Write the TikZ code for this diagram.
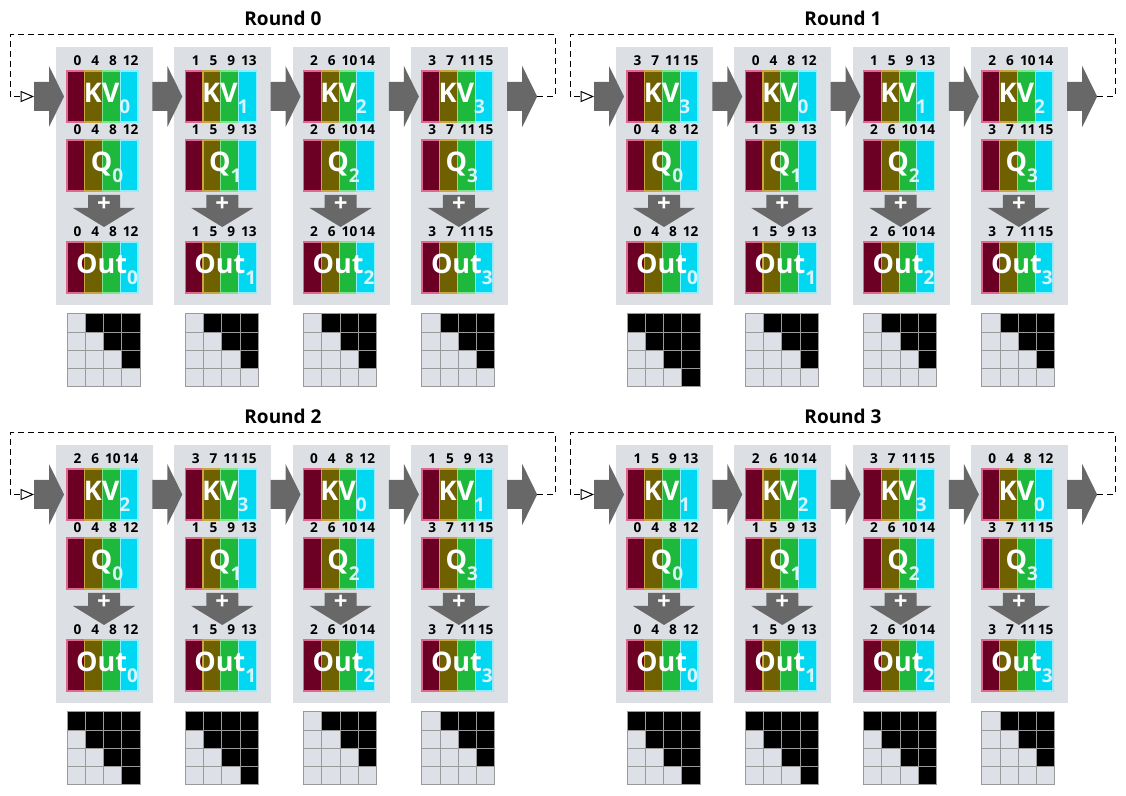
\documentclass[tikz,border=0pt]{standalone}
\usepackage{fontspec}
\setmainfont{Open Sans}
\usetikzlibrary{arrows}

\definecolor{boxgray}{HTML}{DCDFE3}
\definecolor{arrgray}{HTML}{686868}
\definecolor{bandA}{HTML}{6B0024}
\definecolor{bandB}{HTML}{6F6000}
\definecolor{bandC}{HTML}{1EB83C}
\definecolor{bandD}{HTML}{00D8F2}
\definecolor{edgeA}{HTML}{E0678F}
\definecolor{edgeB}{HTML}{C9A640}
\definecolor{edgeC}{HTML}{7FE38F}
\definecolor{edgeD}{HTML}{8CEEFF}
\definecolor{subcol}{HTML}{D8F4FF}
\definecolor{cellgray}{HTML}{DDE0E6}
\definecolor{cellline}{HTML}{9A9A9A}

% big white label with low subscript
\newcommand\tagsub[2]{#1\raisebox{-5.5pt}{\fontsize{9.5}{9.5}\selectfont\color{subcol}#2}}

\begin{document}
\begin{tikzpicture}[x=0.5pt,y=-0.5pt,
  devbox/.style={fill=boxgray},
  blockarrow/.style={fill=arrgray},
  idx/.style={font=\fontsize{6.8}{6.8}\selectfont\bfseries,inner sep=0pt},
  big/.style={font=\fontsize{13.5}{13.5}\selectfont\bfseries,text=white,inner sep=0pt,anchor=base},
  title/.style={font=\fontsize{9.5}{9.5}\selectfont\bfseries,inner sep=0pt},
  plus/.style={font=\fontsize{12}{12}\selectfont\bfseries,text=white,inner sep=0pt},
  ring/.style={line width=0.5pt,dash pattern=on 3pt off 2pt},
  cell/.style={draw=cellline,line width=0.5pt}]
\useasboundingbox (0,0) rectangle (1126,796);
\foreach \r in {0,...,3} {
  \pgfmathsetmacro\ox{mod(\r,2)*560}
  \pgfmathsetmacro\oy{int(\r/2)*398}
  \node[title] (round\r) at (\ox+283,\oy+18) {Round \r};
  % devices
  \foreach \d in {0,...,3} {
    \pgfmathsetmacro\bx{\ox+56+118.3*\d}
    \pgfmathtruncatemacro\k{mod(\d-\r+4,4)}
    \fill[devbox] (\bx,\oy+47) rectangle ++(97,258);
    \fill[blockarrow] (\bx+32,\oy+195) -- (\bx+64,\oy+195) -- (\bx+64,\oy+208)
      -- (\bx+79,\oy+208) -- (\bx+48,\oy+227) -- (\bx+17,\oy+208) -- (\bx+32,\oy+208) -- cycle;
    \node[plus] (plus\r\d) at (\bx+48,\oy+204) {+};
    \foreach \yt/\nm/\base/\txt in {71/kv/\k/KV,140/q/\d/Q,242/out/\d/Out} {
      \foreach \c/\e [count=\j from 0] in {bandA/edgeA,bandB/edgeB,bandC/edgeC,bandD/edgeD}
        \draw[\e,fill=\c,line width=0.6pt] (\bx+11+17.75*\j,\oy+\yt) rectangle ++(17.75,51);
      \foreach \j in {0,...,3} {
        \pgfmathtruncatemacro\num{\base+4*\j}
        \node[idx] (\nm n\r\d\j) at (\bx+21.4+17.75*\j,\oy+\yt-10) {\num};
      }
      \node[big] (\nm\r\d) at (\bx+51,\oy+\yt+32) {\tagsub{\txt}{\base}};
    }
    % mask
    \foreach \i in {0,...,3} \foreach \j in {0,...,3} {
      \pgfmathtruncatemacro\blk{(\j>\i)||(\j==\i && \d<\r)}
      \ifnum\blk=1 \def\cfill{black}\else\def\cfill{cellgray}\fi
      \draw[cell,fill=\cfill] (\bx+11+18.25*\j,\oy+314+18.25*\i) rectangle ++(18.25,18.25);
    }
  }
  % passing arrows
  \foreach \i in {0,...,4} {
    \pgfmathsetmacro\ax{\ox+34+118.3*\i}
    \fill[blockarrow] (\ax,\oy+82) -- (\ax+15,\oy+82) -- (\ax+15,\oy+66) -- (\ax+30,\oy+96.5)
      -- (\ax+15,\oy+127) -- (\ax+15,\oy+111) -- (\ax,\oy+111) -- cycle;
  }
  \coordinate (ringin\r) at (\ox+34,\oy+96.5);
  \coordinate (ringout\r) at (\ox+34+118.3*4+30,\oy+96.5);
  \draw[ring,-open triangle 45] (ringout\r) -| (\ox+555,\oy+35) -| (\ox+10,\oy+96.5) -- (ringin\r);
}
\end{tikzpicture}
\end{document}
